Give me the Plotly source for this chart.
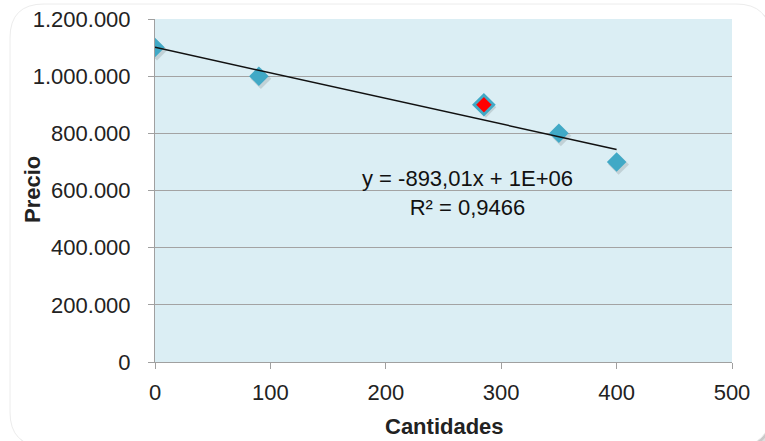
import numpy as np
import plotly.graph_objects as go

# Observed quantities and prices
cantidades = [0, 90, 285, 350, 400]
precios = [1100000, 1000000, 900000, 800000, 700000]
punto_destacado = 2  # index of the highlighted observation

x_ticks = [0, 100, 200, 300, 400, 500]
y_ticks = [0, 200000, 400000, 600000, 800000, 1000000, 1200000]

W, H = 765, 441
M_L, M_R, M_T, M_B = 155, 33, 19, 79
X_RANGE = [0, 500]
Y_RANGE = [0, 1200000]
plot_w = W - M_L - M_R
plot_h = H - M_T - M_B

FONT = "Liberation Sans, Arial, sans-serif"
MARKER_BLUE = "#41A9C6"

# Linear least-squares trendline
x = np.array(cantidades, dtype=float)
y = np.array(precios, dtype=float)
slope, intercept = np.polyfit(x, y, 1)
r2 = np.corrcoef(x, y)[0, 1] ** 2
x_fit = np.array([x.min(), x.max()])
y_fit = slope * x_fit + intercept


def excel_general(v):
    mant, exp = f"{v:.0E}".split("E")
    return f"{mant}E{exp[0]}{int(exp[1:]):02d}"


eq_text = (f"y = {slope:.2f}".replace(".", ",") + "x + " + excel_general(intercept)
           + "<br>" + f"R² = {r2:.4f}".replace(".", ","))


def px_to_paper_x(px):
    return (px - M_L) / plot_w


def px_to_paper_y(py):
    return (H - M_B - py) / plot_h


# pixel offset converted to data units for the drop shadow of the markers
sx = 2 * (X_RANGE[1] - X_RANGE[0]) / plot_w
sy = -2.5 * (Y_RANGE[1] - Y_RANGE[0]) / plot_h

fig = go.Figure()

# marker shadows
fig.add_trace(go.Scatter(
    x=[v + sx for v in cantidades], y=[v + sy for v in precios], mode="markers",
    marker=dict(symbol="diamond", size=16, color="rgba(60,60,60,0.16)",
                line=dict(width=0)),
    hoverinfo="skip", showlegend=False))

fig.add_trace(go.Scatter(
    x=cantidades, y=precios, mode="markers",
    marker=dict(symbol="diamond", size=15,
                color=["#FF0000" if i == punto_destacado else MARKER_BLUE
                       for i in range(len(cantidades))],
                line=dict(color=MARKER_BLUE,
                          width=[3 if i == punto_destacado else 0
                                 for i in range(len(cantidades))])),
    showlegend=False))

fig.add_trace(go.Scatter(
    x=x_fit, y=y_fit, mode="lines",
    line=dict(color="#111111", width=1.5), showlegend=False))

# trendline equation label
fig.add_annotation(
    x=271, y=593000, xref="x", yref="y", xanchor="center", yanchor="middle",
    text=eq_text, showarrow=False, align="center",
    font=dict(family=FONT, size=22, color="#111111"))

# axis titles
fig.add_annotation(
    x=px_to_paper_x(444), y=px_to_paper_y(426), xref="paper", yref="paper",
    xanchor="center", yanchor="middle",
    text="<b>Cantidades</b>", showarrow=False,
    font=dict(family=FONT, size=22, color="#222222"))
fig.add_annotation(
    x=px_to_paper_x(33), y=px_to_paper_y(190), xref="paper", yref="paper",
    xanchor="center", yanchor="middle",
    text="<b>Precio</b>", showarrow=False, textangle=-90,
    font=dict(family=FONT, size=22, color="#222222"))


def rounded_rect(x0, y0, x1, y1, r):
    # corners given in pixels, returned as a path in paper units
    px, py = px_to_paper_x, px_to_paper_y
    return (f"M {px(x0 + r)} {py(y0)} L {px(x1 - r)} {py(y0)} "
            f"Q {px(x1)} {py(y0)} {px(x1)} {py(y0 + r)} "
            f"L {px(x1)} {py(y1 - r)} Q {px(x1)} {py(y1)} {px(x1 - r)} {py(y1)} "
            f"L {px(x0 + r)} {py(y1)} Q {px(x0)} {py(y1)} {px(x0)} {py(y1 - r)} "
            f"L {px(x0)} {py(y0 + r)} Q {px(x0)} {py(y0)} {px(x0 + r)} {py(y0)} Z")


shapes = []
# soft shadow of the chart frame
for off, alpha in [(6, 0.08), (4, 0.12), (2, 0.16)]:
    shapes.append(dict(type="path", xref="paper", yref="paper", layer="below",
                       path=rounded_rect(10 + off, 4 + off, 770 + off, 446 + off, 34),
                       fillcolor=f"rgba(90,90,90,{alpha})", line=dict(width=0)))
shapes.append(dict(type="path", xref="paper", yref="paper", layer="below",
                   path=rounded_rect(10, 4, 770, 446, 34),
                   fillcolor="#FFFFFF", line=dict(color="#ECECEC", width=1)))
# plot area fill
shapes.append(dict(type="rect", xref="paper", yref="paper", layer="below",
                   x0=0, x1=1, y0=0, y1=1, fillcolor="#DBEEF4",
                   line=dict(width=0)))

fig.update_layout(
    width=W, height=H,
    margin=dict(l=M_L, r=M_R, t=M_T, b=M_B, autoexpand=False),
    paper_bgcolor="#FFFFFF", plot_bgcolor="rgba(0,0,0,0)",
    separators=",.",
    shapes=shapes,
    font=dict(family=FONT, size=22, color="#222222"),
)

fig.update_xaxes(
    range=X_RANGE, tickvals=x_ticks, showgrid=False, zeroline=False,
    showline=True, linecolor="#A0A0A0", linewidth=1,
    ticks="outside", ticklen=6, tickcolor="#A0A0A0",
    ticklabelstandoff=5,
    tickfont=dict(family=FONT, size=22, color="#222222"))
fig.update_yaxes(
    range=Y_RANGE, tickvals=y_ticks, tickformat=",d", showgrid=True,
    gridcolor="#A3A3A3", gridwidth=1, zeroline=False,
    showline=True, linecolor="#A0A0A0", linewidth=1,
    ticks="outside", ticklen=6, tickcolor="#A0A0A0",
    ticklabelstandoff=13,
    tickfont=dict(family=FONT, size=22, color="#222222"))

fig.write_html("out.html")
